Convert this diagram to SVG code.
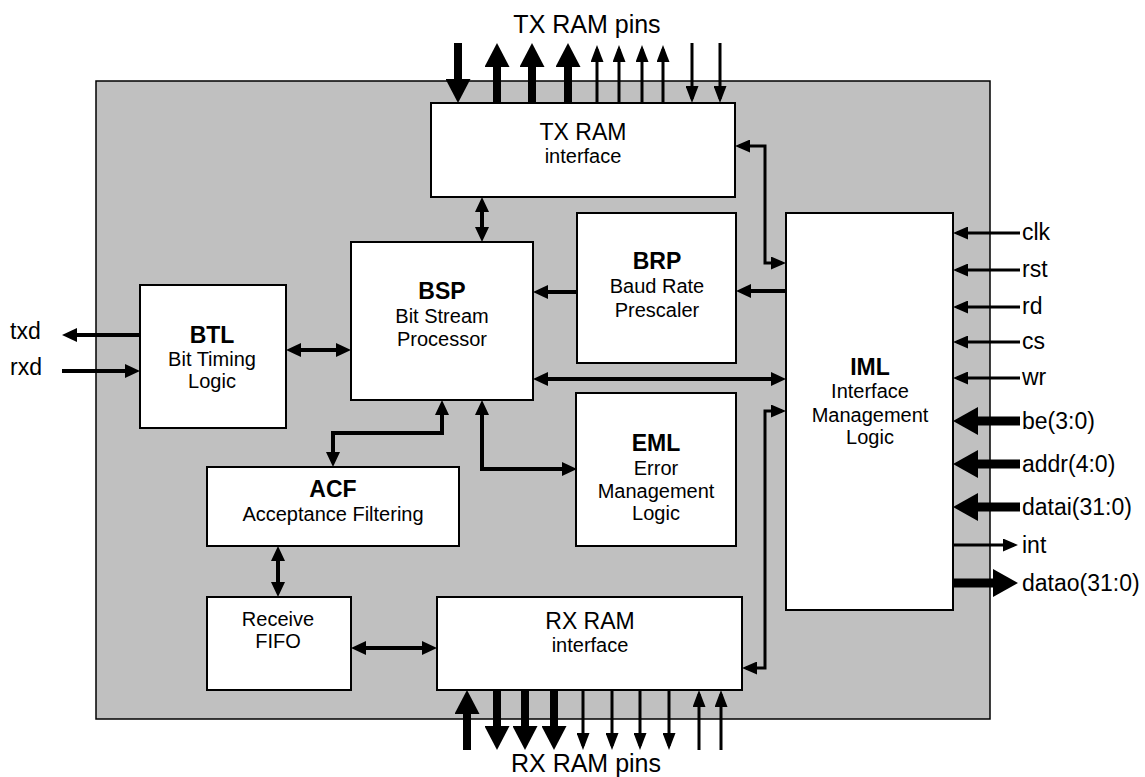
<svg xmlns="http://www.w3.org/2000/svg" width="1145" height="777" viewBox="0 0 1145 777">
<style>
.box{fill:#fff;stroke:#000;stroke-width:2}
.t{font-family:"Liberation Sans",Arial,sans-serif;fill:#000}
.title{font-size:23px;font-weight:bold;text-anchor:middle}
.body{font-size:20px;text-anchor:middle}
.big{font-size:23px;text-anchor:middle}
.pin{font-size:25px;text-anchor:middle}
.sig{font-size:23px}
.m{fill:none;stroke:#000;stroke-width:4;marker-end:url(#am);stroke-linejoin:miter}
.md{fill:none;stroke:#000;stroke-width:4;marker-start:url(#am);marker-end:url(#am)}
.th{fill:none;stroke:#000;stroke-width:3;marker-end:url(#at)}
.thd{fill:none;stroke:#000;stroke-width:3;marker-start:url(#at);marker-end:url(#at)}
.k{fill:none;stroke:#000;stroke-width:9;marker-end:url(#ak)}
.kp{fill:none;stroke:#000;stroke-width:8;marker-end:url(#ap)}
.tp{fill:none;stroke:#000;stroke-width:3;marker-end:url(#atp)}
</style>
<defs>
<marker id="am" markerUnits="userSpaceOnUse" orient="auto-start-reverse" markerWidth="15" markerHeight="14" viewBox="0 0 15 14" refX="10" refY="7"><path d="M0,0L15,7L0,14z" fill="#000"/></marker>
<marker id="at" markerUnits="userSpaceOnUse" orient="auto-start-reverse" markerWidth="15" markerHeight="13" viewBox="0 0 15 13" refX="11" refY="6.5"><path d="M0,0L15,6.5L0,13z" fill="#000"/></marker>
<marker id="atp" markerUnits="userSpaceOnUse" orient="auto-start-reverse" markerWidth="17" markerHeight="13" viewBox="0 0 17 13" refX="13" refY="6.5"><path d="M0,0L17,6.5L0,13z" fill="#000"/></marker>
<marker id="ak" markerUnits="userSpaceOnUse" orient="auto-start-reverse" markerWidth="25" markerHeight="28" viewBox="0 0 25 28" refX="15" refY="14"><path d="M0,0L25,14L0,28z" fill="#000"/></marker>
<marker id="ap" markerUnits="userSpaceOnUse" orient="auto-start-reverse" markerWidth="24" markerHeight="25" viewBox="0 0 24 25" refX="14" refY="12.5"><path d="M0,0L24,12.5L0,25z" fill="#000"/></marker>
</defs>
<rect x="0" y="0" width="1145" height="777" fill="#fff"/>
<rect id="chip" x="96" y="81" width="894" height="638" fill="#c0c0c0" stroke="#000" stroke-width="1.5"/>

<g id="connectors">
<!-- TX RAM pins -->
<path class="kp" d="M458,43V93"/>
<path class="kp" d="M497,103V53"/>
<path class="kp" d="M532,103V53"/>
<path class="kp" d="M568,103V53"/>
<path class="tp" d="M597,103V49"/>
<path class="tp" d="M619,103V49"/>
<path class="tp" d="M642,103V49"/>
<path class="tp" d="M663,103V49"/>
<path class="tp" d="M692,43V99"/>
<path class="tp" d="M720,43V99"/>
<!-- RX RAM pins -->
<path class="kp" d="M467,750V700"/>
<path class="kp" d="M497,690V740"/>
<path class="kp" d="M525,690V740"/>
<path class="kp" d="M554,690V740"/>
<path class="tp" d="M583,690V746"/>
<path class="tp" d="M612,690V746"/>
<path class="tp" d="M640,690V746"/>
<path class="tp" d="M669,690V746"/>
<path class="tp" d="M699,750V694"/>
<path class="tp" d="M721,750V694"/>
<!-- internal -->
<path class="md" d="M482,202V237"/>
<path class="m" d="M577,292H538"/>
<path class="m" d="M786,291H741"/>
<path class="md" d="M291,350H346"/>
<path class="m" d="M142,335H67"/>
<path class="m" d="M62,371H135"/>
<path class="md" d="M538,379H781"/>
<path class="md" d="M333,462V433H442V405"/>
<path class="md" d="M482,405V469H572"/>
<path class="md" d="M278,551V592"/>
<path class="md" d="M356,648H432"/>
<path class="thd" d="M739,146H765V263H782"/>
<path class="thd" d="M746,668H765V411H782"/>
<!-- IML side signals -->
<path class="th" d="M1020,233H957" stroke-width="2.5"/>
<path class="th" d="M1020,270H957" stroke-width="3.5"/>
<path class="th" d="M1020,307H957" stroke-width="3.5"/>
<path class="th" d="M1020,342H957" stroke-width="3.5"/>
<path class="th" d="M1020,378H957" stroke-width="2.5"/>
<path class="k" d="M1020,421H963"/>
<path class="k" d="M1020,464H963"/>
<path class="k" d="M1020,507H963"/>
<path class="th" d="M952,545H1014"/>
<path class="k" d="M953,583H1008"/>
</g>

<g id="txram"><rect class="box" x="431" y="103" width="304" height="94"/><text class="t big" x="583" y="140">TX RAM</text><text class="t body" x="583" y="163">interface</text></g>
<g id="bsp"><rect class="box" x="351" y="242" width="182" height="158"/><text class="t title" x="442" y="299">BSP</text><text class="t body" x="442" y="323">Bit Stream</text><text class="t body" x="442" y="346">Processor</text></g>
<g id="brp"><rect class="box" x="577" y="213" width="159" height="150"/><text class="t title" x="657" y="269">BRP</text><text class="t body" x="657" y="293">Baud Rate</text><text class="t body" x="657" y="317">Prescaler</text></g>
<g id="iml"><rect class="box" x="786" y="213" width="167" height="397"/><text class="t title" x="870" y="375">IML</text><text class="t body" x="870" y="398">Interface</text><text class="t body" x="870" y="422">Management</text><text class="t body" x="870" y="444">Logic</text></g>
<g id="btl"><rect class="box" x="140" y="285" width="146" height="143"/><text class="t title" x="212" y="343">BTL</text><text class="t body" x="212" y="366">Bit Timing</text><text class="t body" x="212" y="388">Logic</text></g>
<g id="eml"><rect class="box" x="576" y="393" width="160" height="153"/><text class="t title" x="656" y="451">EML</text><text class="t body" x="656" y="475">Error</text><text class="t body" x="656" y="498">Management</text><text class="t body" x="656" y="520">Logic</text></g>
<g id="acf"><rect class="box" x="207" y="467" width="252" height="79"/><text class="t title" x="333" y="497">ACF</text><text class="t body" x="333" y="521">Acceptance Filtering</text></g>
<g id="fifo"><rect class="box" x="207" y="597" width="144" height="93"/><text class="t body" x="278" y="626">Receive</text><text class="t body" x="278" y="648">FIFO</text></g>
<g id="rxram"><rect class="box" x="437" y="597" width="305" height="93"/><text class="t big" x="590" y="629">RX RAM</text><text class="t body" x="590" y="652">interface</text></g>

<g id="labels">
<text class="t pin" x="587" y="33">TX RAM pins</text>
<text class="t pin" x="586" y="772">RX RAM pins</text>
<text class="t sig" x="10" y="339">txd</text>
<text class="t sig" x="10" y="375">rxd</text>
<text class="t sig" x="1022" y="240">clk</text>
<text class="t sig" x="1022" y="277">rst</text>
<text class="t sig" x="1022" y="314">rd</text>
<text class="t sig" x="1022" y="349">cs</text>
<text class="t sig" x="1022" y="385">wr</text>
<text class="t sig" x="1022" y="429">be(3:0)</text>
<text class="t sig" x="1022" y="472">addr(4:0)</text>
<text class="t sig" x="1022" y="515">datai(31:0)</text>
<text class="t sig" x="1022" y="553">int</text>
<text class="t sig" x="1022" y="591">datao(31:0)</text>
</g>
</svg>
